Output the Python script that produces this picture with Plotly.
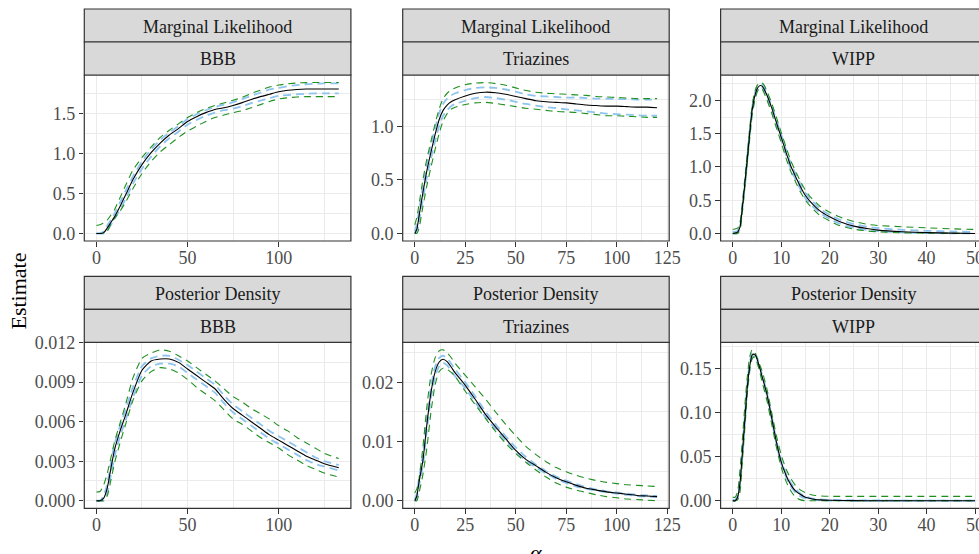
import plotly.graph_objects as go

# ---------------- data ----------------
stat_labels = ["Marginal Likelihood", "Posterior Density"]
dataset_labels = ["BBB", "Triazines", "WIPP"]

# Marginal likelihood, BBB
ml_bbb_x = [0, 2, 4, 6, 8, 10, 13, 16, 20, 25, 30, 35, 40, 45, 50, 55, 60, 65, 70, 75, 80, 85, 90, 95, 100, 105, 110, 115, 120, 125, 133]
ml_bbb_est = [0, 0, 0.01, 0.07, 0.14, 0.21, 0.34, 0.48, 0.67, 0.86, 1.01, 1.13, 1.23, 1.31, 1.40, 1.46, 1.51, 1.55, 1.57, 1.60, 1.635, 1.675, 1.71, 1.74, 1.77, 1.79, 1.80, 1.805, 1.805, 1.805, 1.805]
ml_bbb_hi = [0.10, 0.11, 0.13, 0.17, 0.23, 0.30, 0.45, 0.60, 0.79, 0.95, 1.08, 1.20, 1.29, 1.37, 1.45, 1.51, 1.56, 1.60, 1.63, 1.665, 1.70, 1.75, 1.79, 1.83, 1.855, 1.87, 1.88, 1.885, 1.886, 1.886, 1.886]
ml_bbb_lo = [0, 0, 0, 0.03, 0.12, 0.19, 0.28, 0.39, 0.56, 0.75, 0.90, 1.02, 1.11, 1.20, 1.28, 1.34, 1.40, 1.45, 1.48, 1.51, 1.535, 1.57, 1.61, 1.65, 1.68, 1.695, 1.705, 1.71, 1.71, 1.71, 1.71]
ml_bbb_bhi = [0, 0, 0.03, 0.10, 0.17, 0.25, 0.39, 0.53, 0.71, 0.90, 1.05, 1.17, 1.26, 1.34, 1.43, 1.49, 1.54, 1.58, 1.61, 1.64, 1.68, 1.72, 1.76, 1.80, 1.82, 1.84, 1.855, 1.865, 1.87, 1.875, 1.875]
ml_bbb_blo = [0, 0, 0, 0.04, 0.11, 0.18, 0.30, 0.43, 0.62, 0.81, 0.96, 1.09, 1.19, 1.27, 1.36, 1.42, 1.47, 1.51, 1.54, 1.56, 1.59, 1.63, 1.66, 1.69, 1.72, 1.73, 1.74, 1.745, 1.75, 1.75, 1.75]

# Marginal likelihood, Triazines
ml_tri_x = [0, 1, 2, 4, 6, 8, 10, 12, 14, 16, 18, 20, 25, 30, 35, 40, 45, 50, 55, 60, 65, 70, 75, 80, 85, 90, 95, 100, 105, 110, 115, 120]
ml_tri_est = [0, 0.04, 0.15, 0.38, 0.59, 0.76, 0.92, 1.06, 1.15, 1.20, 1.23, 1.25, 1.285, 1.31, 1.32, 1.315, 1.30, 1.28, 1.26, 1.24, 1.23, 1.225, 1.22, 1.21, 1.20, 1.195, 1.19, 1.19, 1.185, 1.18, 1.18, 1.175]
ml_tri_hi = [0.08, 0.15, 0.26, 0.50, 0.70, 0.86, 1.02, 1.16, 1.26, 1.31, 1.34, 1.36, 1.39, 1.405, 1.41, 1.40, 1.385, 1.36, 1.335, 1.32, 1.31, 1.305, 1.30, 1.295, 1.29, 1.28, 1.275, 1.27, 1.265, 1.26, 1.26, 1.26]
ml_tri_lo = [0, 0, 0.04, 0.25, 0.45, 0.62, 0.78, 0.93, 1.05, 1.12, 1.16, 1.18, 1.205, 1.22, 1.225, 1.215, 1.20, 1.185, 1.17, 1.16, 1.15, 1.14, 1.135, 1.13, 1.12, 1.11, 1.10, 1.10, 1.095, 1.09, 1.085, 1.085]
ml_tri_bhi = [0.02, 0.09, 0.20, 0.44, 0.65, 0.82, 0.98, 1.12, 1.21, 1.26, 1.29, 1.31, 1.34, 1.36, 1.365, 1.36, 1.345, 1.325, 1.30, 1.285, 1.28, 1.275, 1.27, 1.27, 1.265, 1.26, 1.26, 1.255, 1.255, 1.25, 1.25, 1.25]
ml_tri_blo = [0, 0.01, 0.10, 0.32, 0.53, 0.70, 0.86, 1.00, 1.10, 1.15, 1.19, 1.21, 1.24, 1.265, 1.275, 1.265, 1.25, 1.23, 1.21, 1.195, 1.18, 1.17, 1.16, 1.15, 1.14, 1.13, 1.12, 1.115, 1.11, 1.105, 1.10, 1.10]

# Marginal likelihood, WIPP
ml_wipp_x = [0, 1, 1.5, 2, 2.5, 3, 3.5, 4, 4.5, 5, 5.5, 6, 6.5, 7, 8, 9, 10, 11, 12, 13, 14, 15, 16, 18, 20, 22, 25, 28, 30, 35, 40, 45, 50]
ml_wipp_est = [0, 0.02, 0.10, 0.40, 0.75, 1.12, 1.50, 1.85, 2.05, 2.17, 2.22, 2.22, 2.17, 2.09, 1.90, 1.67, 1.45, 1.22, 1.01, 0.85, 0.70, 0.57, 0.48, 0.34, 0.25, 0.18, 0.11, 0.07, 0.05, 0.025, 0.012, 0.005, 0.0]
ml_wipp_hi = [0.06, 0.08, 0.16, 0.45, 0.82, 1.20, 1.58, 1.92, 2.12, 2.22, 2.26, 2.27, 2.23, 2.15, 1.97, 1.75, 1.52, 1.30, 1.09, 0.93, 0.78, 0.65, 0.55, 0.41, 0.32, 0.25, 0.18, 0.135, 0.12, 0.10, 0.085, 0.07, 0.06]
ml_wipp_lo = [0, 0, 0.05, 0.33, 0.68, 1.05, 1.42, 1.78, 1.98, 2.12, 2.18, 2.18, 2.11, 2.02, 1.82, 1.59, 1.37, 1.13, 0.93, 0.77, 0.62, 0.50, 0.41, 0.27, 0.19, 0.12, 0.065, 0.035, 0.025, 0.01, 0.004, 0.001, 0]
ml_wipp_bhi = [0.02, 0.04, 0.13, 0.43, 0.79, 1.16, 1.54, 1.89, 2.09, 2.20, 2.24, 2.245, 2.20, 2.12, 1.93, 1.71, 1.49, 1.26, 1.05, 0.89, 0.74, 0.61, 0.52, 0.37, 0.28, 0.21, 0.14, 0.10, 0.08, 0.055, 0.04, 0.03, 0.02]
ml_wipp_blo = [0, 0.005, 0.07, 0.37, 0.71, 1.08, 1.46, 1.81, 2.01, 2.14, 2.20, 2.20, 2.14, 2.06, 1.87, 1.63, 1.41, 1.18, 0.97, 0.81, 0.66, 0.53, 0.44, 0.31, 0.22, 0.15, 0.085, 0.05, 0.035, 0.015, 0.006, 0.002, 0]

# Posterior density, BBB
pd_bbb_x = [0, 2, 4, 6, 8, 10, 13, 16, 20, 25, 30, 35, 40, 45, 50, 55, 60, 65, 70, 75, 80, 85, 90, 95, 100, 105, 110, 115, 120, 125, 133]
pd_bbb_est = [0, 0, 0.0002, 0.0010, 0.0025, 0.0039, 0.0053, 0.0065, 0.0082, 0.0099, 0.0106, 0.01075, 0.01075, 0.0105, 0.0100, 0.0095, 0.0090, 0.0085, 0.0077, 0.0070, 0.0065, 0.0060, 0.0055, 0.0050, 0.0046, 0.0042, 0.0038, 0.0034, 0.0031, 0.0028, 0.0025]
pd_bbb_hi = [0.00066, 0.0007, 0.0012, 0.0021, 0.0033, 0.0045, 0.0059, 0.0073, 0.0093, 0.0108, 0.0112, 0.01145, 0.01135, 0.0110, 0.0106, 0.0101, 0.0096, 0.0091, 0.0085, 0.0079, 0.0075, 0.0070, 0.0066, 0.0062, 0.0057, 0.0053, 0.0048, 0.0044, 0.0040, 0.0036, 0.0032]
pd_bbb_lo = [0, 0, 0, 0.0004, 0.0016, 0.0029, 0.0044, 0.0058, 0.0076, 0.0091, 0.0098, 0.0101, 0.0100, 0.0097, 0.0092, 0.0086, 0.0081, 0.0076, 0.0069, 0.0062, 0.0058, 0.0053, 0.0048, 0.0044, 0.0040, 0.0035, 0.0031, 0.0027, 0.0024, 0.0021, 0.0018]
pd_bbb_bhi = [0, 0, 0.0004, 0.0013, 0.0029, 0.0043, 0.0057, 0.0069, 0.0086, 0.0102, 0.0108, 0.0110, 0.0110, 0.0107, 0.0103, 0.0098, 0.0093, 0.0088, 0.0080, 0.0073, 0.0068, 0.0063, 0.0058, 0.0053, 0.0049, 0.0045, 0.0041, 0.0037, 0.0033, 0.0030, 0.0027]
pd_bbb_blo = [0, 0, 0, 0.0006, 0.0020, 0.0034, 0.0049, 0.0061, 0.0078, 0.0095, 0.0102, 0.0104, 0.0104, 0.0102, 0.0097, 0.0092, 0.0087, 0.0082, 0.0074, 0.0067, 0.0062, 0.0057, 0.0052, 0.0047, 0.0043, 0.0039, 0.0035, 0.0031, 0.0028, 0.0026, 0.0023]

# Posterior density, Triazines
pd_tri_x = [0, 1, 2, 4, 6, 8, 10, 12, 14, 16, 18, 20, 25, 30, 35, 40, 45, 50, 55, 60, 65, 70, 75, 80, 85, 90, 95, 100, 105, 110, 115, 120]
pd_tri_est = [0, 0.0008, 0.0030, 0.0068, 0.0130, 0.0183, 0.0217, 0.0234, 0.0239, 0.0235, 0.0226, 0.0216, 0.0195, 0.0171, 0.0146, 0.0125, 0.0105, 0.0085, 0.0070, 0.0059, 0.0048, 0.0039, 0.0032, 0.0026, 0.0021, 0.0018, 0.0015, 0.0013, 0.0011, 0.0009, 0.0008, 0.0007]
pd_tri_hi = [0.0013, 0.0020, 0.0035, 0.0090, 0.0160, 0.0212, 0.0241, 0.0253, 0.0255, 0.0250, 0.0242, 0.0232, 0.0212, 0.0192, 0.0172, 0.0150, 0.0129, 0.0110, 0.0092, 0.0078, 0.0066, 0.0056, 0.0049, 0.0043, 0.0038, 0.0034, 0.0031, 0.0029, 0.0027, 0.0026, 0.0025, 0.0024]
pd_tri_lo = [0, 0, 0.0012, 0.0044, 0.0090, 0.0150, 0.0195, 0.0218, 0.0224, 0.0222, 0.0217, 0.0210, 0.0185, 0.0162, 0.0139, 0.0117, 0.0097, 0.0080, 0.0065, 0.0052, 0.0040, 0.0030, 0.0023, 0.0018, 0.0014, 0.0010, 0.0007, 0.0005, 0.0003, 0.0002, 0.0001, 0.0]
pd_tri_bhi = [0.0002, 0.0012, 0.0036, 0.0078, 0.0140, 0.0192, 0.0226, 0.0241, 0.0245, 0.0241, 0.0232, 0.0222, 0.0200, 0.0176, 0.0151, 0.0129, 0.0109, 0.0090, 0.0074, 0.0061, 0.0050, 0.0041, 0.0034, 0.0028, 0.0023, 0.0019, 0.0016, 0.0014, 0.0012, 0.0010, 0.0009, 0.0008]
pd_tri_blo = [0, 0.0004, 0.0024, 0.0060, 0.0120, 0.0174, 0.0208, 0.0227, 0.0233, 0.0229, 0.0220, 0.0210, 0.0190, 0.0166, 0.0141, 0.0121, 0.0101, 0.0083, 0.0068, 0.0056, 0.0046, 0.0037, 0.0030, 0.0024, 0.0020, 0.0017, 0.0014, 0.0012, 0.0010, 0.0008, 0.0007, 0.0006]

# Posterior density, WIPP
pd_wipp_x = [0, 0.5, 1, 1.5, 2, 2.5, 3, 3.5, 4, 4.5, 5, 5.5, 6, 7, 8, 9, 10, 11, 12, 13, 14, 15, 16, 17, 18, 20, 25, 30, 35, 40, 45, 50]
pd_wipp_est = [0, 0, 0.004, 0.020, 0.055, 0.092, 0.128, 0.152, 0.165, 0.166, 0.161, 0.152, 0.142, 0.122, 0.095, 0.067, 0.044, 0.029, 0.018, 0.011, 0.007, 0.004, 0.0025, 0.0015, 0.001, 0.0005, 0.0001, 0, 0, 0, 0, 0]
pd_wipp_hi = [0.004, 0.004, 0.010, 0.035, 0.070, 0.108, 0.140, 0.163, 0.171, 0.169, 0.162, 0.155, 0.148, 0.128, 0.101, 0.074, 0.052, 0.036, 0.025, 0.017, 0.012, 0.009, 0.007, 0.006, 0.0055, 0.005, 0.005, 0.005, 0.005, 0.005, 0.005, 0.005]
pd_wipp_lo = [0, 0, 0.001, 0.010, 0.045, 0.082, 0.120, 0.148, 0.161, 0.163, 0.157, 0.148, 0.136, 0.115, 0.088, 0.061, 0.038, 0.022, 0.011, 0.004, 0.001, 0, 0, 0, 0, 0, 0, 0, 0, 0, 0, 0]
pd_wipp_bhi = [0.001, 0.001, 0.006, 0.024, 0.060, 0.097, 0.132, 0.156, 0.168, 0.168, 0.163, 0.154, 0.144, 0.124, 0.097, 0.069, 0.046, 0.031, 0.020, 0.013, 0.008, 0.005, 0.003, 0.002, 0.0015, 0.001, 0.0005, 0.0003, 0.0002, 0.0001, 0.0001, 0.0001]
pd_wipp_blo = [0, 0, 0.002, 0.016, 0.050, 0.087, 0.124, 0.148, 0.162, 0.164, 0.159, 0.150, 0.140, 0.120, 0.093, 0.065, 0.042, 0.027, 0.016, 0.009, 0.005, 0.003, 0.002, 0.001, 0.0005, 0.0002, 0, 0, 0, 0, 0, 0]

x_tick_step = [50, 25, 10]
y_tick_step = [[0.5, 0.5, 0.5], [0.003, 0.01, 0.05]]
y_tick_fmt = [[".1f", ".1f", ".1f"], [".3f", ".2f", ".2f"]]

panels = [
    [(ml_bbb_x, ml_bbb_est, ml_bbb_hi, ml_bbb_lo, ml_bbb_bhi, ml_bbb_blo),
     (ml_tri_x, ml_tri_est, ml_tri_hi, ml_tri_lo, ml_tri_bhi, ml_tri_blo),
     (ml_wipp_x, ml_wipp_est, ml_wipp_hi, ml_wipp_lo, ml_wipp_bhi, ml_wipp_blo)],
    [(pd_bbb_x, pd_bbb_est, pd_bbb_hi, pd_bbb_lo, pd_bbb_bhi, pd_bbb_blo),
     (pd_tri_x, pd_tri_est, pd_tri_hi, pd_tri_lo, pd_tri_bhi, pd_tri_blo),
     (pd_wipp_x, pd_wipp_est, pd_wipp_hi, pd_wipp_lo, pd_wipp_bhi, pd_wipp_blo)],
]

# ---------------- layout geometry (pixels) ----------------
W, H = 979, 554
col_px = [(84.3, 350.9), (402.7, 669.2), (720.6, 987.2)]
row_px = [(75.0, 241.0), (342.3, 508.3)]
strip_h = 33.0

FONT = "Liberation Serif, DejaVu Serif, serif"
BORDER = "#333333"
GRID = "#EBEBEB"
TICKTXT = "#4D4D4D"
GREEN = "#1F8F1F"
BLUE = "#8EC4EE"


def px_x(p):
    return p / W


def px_y(p):
    return 1 - p / H


fig = go.Figure()
shapes = []
annotations = []

for r in range(2):
    for c in range(3):
        k = r * 3 + c + 1
        xs, est, hi, lo, bhi, blo = panels[r][c]
        xa = "x" if k == 1 else f"x{k}"
        ya = "y" if k == 1 else f"y{k}"
        for arr in (bhi, blo):
            fig.add_trace(go.Scatter(x=xs, y=arr, mode="lines", xaxis=xa, yaxis=ya,
                                     line=dict(color=BLUE, width=1.8, dash="8px,5px", shape="spline", smoothing=0.6),
                                     showlegend=False, hoverinfo="skip"))
        for arr in (hi, lo):
            fig.add_trace(go.Scatter(x=xs, y=arr, mode="lines", xaxis=xa, yaxis=ya,
                                     line=dict(color=GREEN, width=1.1, dash="7px,5px", shape="spline", smoothing=0.6),
                                     showlegend=False, hoverinfo="skip"))
        fig.add_trace(go.Scatter(x=xs, y=est, mode="lines", xaxis=xa, yaxis=ya,
                                 line=dict(color="black", width=1.1, shape="spline", smoothing=0.6),
                                 showlegend=False, hoverinfo="skip"))

        # data ranges with ggplot-style 5% expansion
        xmin, xmax = min(xs), max(xs)
        ymax = max(max(hi), max(bhi), max(est))
        xspan = xmax - xmin
        x0r, x1r = xmin - 0.05 * xspan, xmax + 0.05 * xspan
        l, rr = col_px[c]
        right_px = min(rr, W)
        x1_vis = x0r + (x1r - x0r) * (right_px - l) / (rr - l)
        top, bot = row_px[r]

        xkey = "xaxis" if k == 1 else f"xaxis{k}"
        ykey = "yaxis" if k == 1 else f"yaxis{k}"
        fig.layout[xkey] = dict(
            domain=[px_x(l), px_x(right_px)], range=[x0r, x1_vis], anchor=ya,
            tick0=0, dtick=x_tick_step[c], ticks="outside", ticklen=4.5, tickwidth=1.1,
            tickcolor=BORDER, showgrid=True, gridcolor=GRID, gridwidth=1.1,
            minor=dict(tick0=0, dtick=x_tick_step[c] / 2, showgrid=True, gridcolor=GRID, gridwidth=0.55),
            zeroline=False, showline=False, automargin=False,
            ticklabeloverflow="allow", ticklabelstandoff=-4,
            tickfont=dict(family=FONT, size=18, color=TICKTXT), fixedrange=True,
        )
        fig.layout[ykey] = dict(
            domain=[px_y(bot), px_y(top)], range=[-0.05 * ymax, 1.05 * ymax], anchor=xa,
            tick0=0, dtick=y_tick_step[r][c], tickformat=y_tick_fmt[r][c],
            ticks="outside", ticklen=4.5, tickwidth=1.1,
            tickcolor=BORDER, showgrid=True, gridcolor=GRID, gridwidth=1.1,
            minor=dict(tick0=0, dtick=y_tick_step[r][c] / 2, showgrid=True, gridcolor=GRID, gridwidth=0.55),
            zeroline=False, showline=False, automargin=False,
            tickfont=dict(family=FONT, size=18, color=TICKTXT), fixedrange=True,
        )

        # panel border
        shapes.append(dict(type="rect", xref="paper", yref="paper", layer="above",
                           x0=px_x(l), x1=px_x(rr), y0=px_y(bot), y1=px_y(top),
                           line=dict(color=BORDER, width=1.2), fillcolor="rgba(0,0,0,0)"))
        # two strips
        for s in range(2):
            s_top = top - strip_h * (2 - s)
            s_bot = s_top + strip_h
            shapes.append(dict(type="rect", xref="paper", yref="paper", layer="above",
                               x0=px_x(l), x1=px_x(rr), y0=px_y(s_bot), y1=px_y(s_top),
                               line=dict(color=BORDER, width=1.2), fillcolor="#D9D9D9"))
            label = stat_labels[r] if s == 0 else dataset_labels[c]
            annotations.append(dict(text=label, xref="paper", yref="paper",
                                    x=px_x((l + rr) / 2), y=px_y((s_top + s_bot) / 2 + 1),
                                    xanchor="center", yanchor="middle", showarrow=False,
                                    font=dict(family=FONT, size=18, color="#1A1A1A")))

annotations.append(dict(text="Estimate", xref="paper", yref="paper", x=px_x(18), y=px_y(291.5),
                        xanchor="center", yanchor="middle", textangle=-90, showarrow=False,
                        font=dict(family=FONT, size=22, color="black")))
annotations.append(dict(text="<i>α</i>", xref="paper", yref="paper", x=px_x(535.7), y=px_y(552),
                        xanchor="center", yanchor="middle", showarrow=False,
                        font=dict(family=FONT, size=22, color="black")))

fig.update_layout(
    width=W, height=H, autosize=False, template="none",
    margin=dict(l=0, r=0, t=0, b=0, pad=0),
    paper_bgcolor="white", plot_bgcolor="white",
    shapes=shapes, annotations=annotations, showlegend=False,
)

fig.write_html("out.html", config={"displayModeBar": False},
               post_script="document.body.style.margin='0px';document.body.style.overflow='hidden';")
